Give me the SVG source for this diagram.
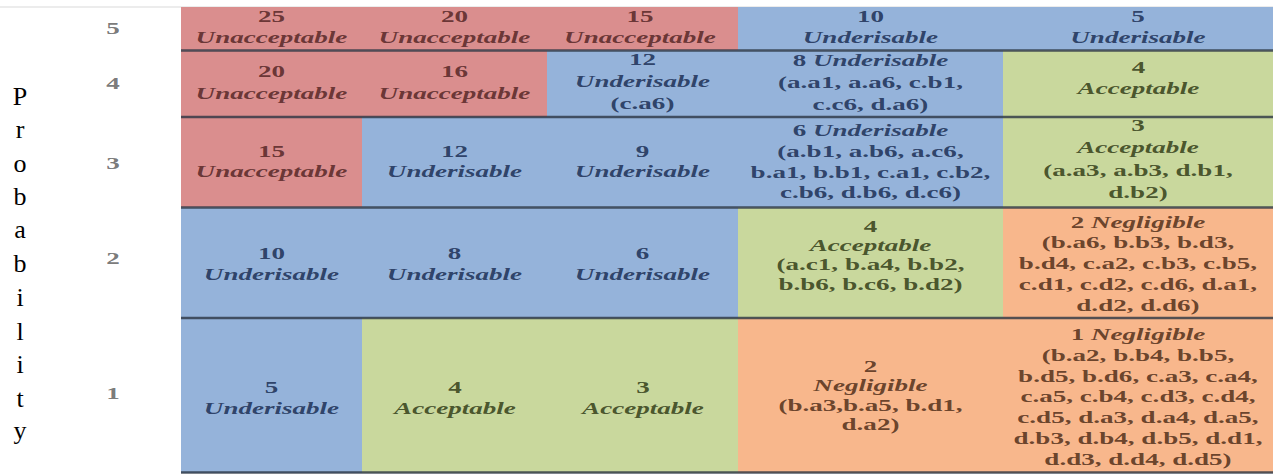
<svg xmlns="http://www.w3.org/2000/svg" width="1273" height="474" viewBox="0 0 1273 474">
<style>
.t{font-family:"Liberation Serif","Times New Roman",serif;font-size:16.5px;font-weight:bold;text-anchor:middle;transform-box:fill-box;transform-origin:center;transform:scaleX(1.64);fill-opacity:0.9}
.w{font-style:italic}
.lab{font-family:"Liberation Serif","Times New Roman",serif;font-size:26px;fill:#000;text-anchor:middle}
.num{fill:#6a6a6a}
.r{fill:#da8e8e}.b{fill:#95b3da}.g{fill:#c9d89d}.o{fill:#f8b78c}
.tr{fill:#5c2b2b}.tb{fill:#22355a}.tg{fill:#3a451d}.to{fill:#58351f}
.sep{stroke:#2a3542;stroke-opacity:0.8;stroke-width:2.5;fill:none}
</style>
<rect width="1273" height="474" fill="#fff"/>
<line x1="0" y1="7" x2="1273" y2="7" stroke="#d9d9d9" stroke-width="1"/>
<g id="axis-label">
<text class="lab" x="20" y="105">P</text>
<text class="lab" x="20" y="138">r</text>
<text class="lab" x="20" y="172">o</text>
<text class="lab" x="20" y="205">b</text>
<text class="lab" x="20" y="238">a</text>
<text class="lab" x="20" y="272">b</text>
<text class="lab" x="20" y="306">i</text>
<text class="lab" x="20" y="340">l</text>
<text class="lab" x="20" y="373">i</text>
<text class="lab" x="20" y="407">t</text>
<text class="lab" x="20" y="439">y</text>
</g>
<g id="row-numbers">
<text class="t num" x="113" y="34">5</text>
<text class="t num" x="113" y="89">4</text>
<text class="t num" x="113" y="169">3</text>
<text class="t num" x="113" y="264">2</text>
<text class="t num" x="113" y="399">1</text>
</g>
<g id="r5c1"><rect class="r" x="181" y="7" width="181" height="43.5"/><text class="t tr"><tspan x="271.5" y="22">25</tspan><tspan x="271.5" y="43" class="w">Unacceptable</tspan></text></g>
<g id="r5c2"><rect class="r" x="362" y="7" width="185" height="43.5"/><text class="t tr"><tspan x="454.5" y="22">20</tspan><tspan x="454.5" y="43" class="w">Unacceptable</tspan></text></g>
<g id="r5c3"><rect class="r" x="547" y="7" width="191" height="43.5"/><text class="t tr"><tspan x="640" y="22">15</tspan><tspan x="640" y="43" class="w">Unacceptable</tspan></text></g>
<g id="r5c4"><rect class="b" x="738" y="7" width="265" height="43.5"/><text class="t tb"><tspan x="870.5" y="22">10</tspan><tspan x="870.5" y="43" class="w">Underisable</tspan></text></g>
<g id="r5c5"><rect class="b" x="1003" y="7" width="270" height="43.5"/><text class="t tb"><tspan x="1138" y="22">5</tspan><tspan x="1138" y="43" class="w">Underisable</tspan></text></g>
<g id="r4c1"><rect class="r" x="181" y="50.5" width="181" height="66.5"/><text class="t tr"><tspan x="271.5" y="77">20</tspan><tspan x="271.5" y="99" class="w">Unacceptable</tspan></text></g>
<g id="r4c2"><rect class="r" x="362" y="50.5" width="185" height="66.5"/><text class="t tr"><tspan x="454.5" y="77">16</tspan><tspan x="454.5" y="99" class="w">Unacceptable</tspan></text></g>
<g id="r4c3"><rect class="b" x="547" y="50.5" width="191" height="66.5"/><text class="t tb"><tspan x="642.5" y="65">12</tspan><tspan x="642.5" y="87" class="w">Underisable</tspan><tspan x="642.5" y="109">(c.a6)</tspan></text></g>
<g id="r4c4"><rect class="b" x="738" y="50.5" width="265" height="66.5"/><text class="t tb"><tspan x="870.5" y="66">8 </tspan><tspan class="w">Underisable</tspan><tspan x="870.5" y="88">(a.a1, a.a6, c.b1,</tspan><tspan x="870.5" y="110">c.c6, d.a6)</tspan></text></g>
<g id="r4c5"><rect class="g" x="1003" y="50.5" width="270" height="66.5"/><text class="t tg"><tspan x="1138" y="73">4</tspan><tspan x="1138" y="94" class="w">Acceptable</tspan></text></g>
<g id="r3c1"><rect class="r" x="181" y="117" width="181" height="90.5"/><text class="t tr"><tspan x="271.5" y="157">15</tspan><tspan x="271.5" y="177" class="w">Unacceptable</tspan></text></g>
<g id="r3c2"><rect class="b" x="362" y="117" width="185" height="90.5"/><text class="t tb"><tspan x="454.5" y="157">12</tspan><tspan x="454.5" y="177" class="w">Underisable</tspan></text></g>
<g id="r3c3"><rect class="b" x="547" y="117" width="191" height="90.5"/><text class="t tb"><tspan x="642.5" y="157">9</tspan><tspan x="642.5" y="177" class="w">Underisable</tspan></text></g>
<g id="r3c4"><rect class="b" x="738" y="117" width="265" height="90.5"/><text class="t tb"><tspan x="870.5" y="136">6 </tspan><tspan class="w">Underisable</tspan><tspan x="870.5" y="157">(a.b1, a.b6, a.c6,</tspan><tspan x="870.5" y="178">b.a1, b.b1, c.a1, c.b2,</tspan><tspan x="870.5" y="198">c.b6, d.b6, d.c6)</tspan></text></g>
<g id="r3c5"><rect class="g" x="1003" y="117" width="270" height="90.5"/><text class="t tg"><tspan x="1138" y="131">3</tspan><tspan x="1138" y="153" class="w">Acceptable</tspan><tspan x="1138" y="176">(a.a3, a.b3, d.b1,</tspan><tspan x="1138" y="198">d.b2)</tspan></text></g>
<g id="r2c1"><rect class="b" x="181" y="207.5" width="181" height="110.5"/><text class="t tb"><tspan x="271.5" y="259">10</tspan><tspan x="271.5" y="280" class="w">Underisable</tspan></text></g>
<g id="r2c2"><rect class="b" x="362" y="207.5" width="185" height="110.5"/><text class="t tb"><tspan x="454.5" y="259">8</tspan><tspan x="454.5" y="280" class="w">Underisable</tspan></text></g>
<g id="r2c3"><rect class="b" x="547" y="207.5" width="191" height="110.5"/><text class="t tb"><tspan x="642.5" y="259">6</tspan><tspan x="642.5" y="280" class="w">Underisable</tspan></text></g>
<g id="r2c4"><rect class="g" x="738" y="207.5" width="265" height="110.5"/><text class="t tg"><tspan x="870.5" y="232">4</tspan><tspan x="870.5" y="251" class="w">Acceptable</tspan><tspan x="870.5" y="270">(a.c1, b.a4, b.b2,</tspan><tspan x="870.5" y="290">b.b6, b.c6, b.d2)</tspan></text></g>
<g id="r2c5"><rect class="o" x="1003" y="207.5" width="270" height="110.5"/><text class="t to"><tspan x="1138" y="228">2 </tspan><tspan class="w">Negligible</tspan><tspan x="1138" y="248">(b.a6, b.b3, b.d3,</tspan><tspan x="1138" y="269">b.d4, c.a2, c.b3, c.b5,</tspan><tspan x="1138" y="290">c.d1, c.d2, c.d6, d.a1,</tspan><tspan x="1138" y="311">d.d2, d.d6)</tspan></text></g>
<g id="r1c1"><rect class="b" x="181" y="318" width="181" height="155"/><text class="t tb"><tspan x="271.5" y="393">5</tspan><tspan x="271.5" y="414" class="w">Underisable</tspan></text></g>
<g id="r1c2"><rect class="g" x="362" y="318" width="185" height="155"/><text class="t tg"><tspan x="454.5" y="393">4</tspan><tspan x="454.5" y="414" class="w">Acceptable</tspan></text></g>
<g id="r1c3"><rect class="g" x="547" y="318" width="191" height="155"/><text class="t tg"><tspan x="642.5" y="393">3</tspan><tspan x="642.5" y="414" class="w">Acceptable</tspan></text></g>
<g id="r1c4"><rect class="o" x="738" y="318" width="265" height="155"/><text class="t to"><tspan x="870.5" y="372">2</tspan><tspan x="870.5" y="391" class="w">Negligible</tspan><tspan x="870.5" y="411">(b.a3,b.a5, b.d1,</tspan><tspan x="870.5" y="430">d.a2)</tspan></text></g>
<g id="r1c5"><rect class="o" x="1003" y="318" width="270" height="155"/><text class="t to"><tspan x="1138" y="340">1 </tspan><tspan class="w">Negligible</tspan><tspan x="1138" y="361">(b.a2, b.b4, b.b5,</tspan><tspan x="1138" y="382">b.d5, b.d6, c.a3, c.a4,</tspan><tspan x="1138" y="402">c.a5, c.b4, c.d3, c.d4,</tspan><tspan x="1138" y="423">c.d5, d.a3, d.a4, d.a5,</tspan><tspan x="1138" y="444">d.b3, d.b4, d.b5, d.d1,</tspan><tspan x="1138" y="465">d.d3, d.d4, d.d5)</tspan></text></g>
<g id="connectors">
<line class="sep" x1="181" y1="50.5" x2="1273" y2="50.5"/>
<line class="sep" x1="181" y1="117" x2="1273" y2="117"/>
<line class="sep" x1="181" y1="207.5" x2="1273" y2="207.5"/>
<line class="sep" x1="181" y1="318" x2="1273" y2="318"/>
<line class="sep" x1="181" y1="472.5" x2="1273" y2="472.5"/>
</g>
</svg>
